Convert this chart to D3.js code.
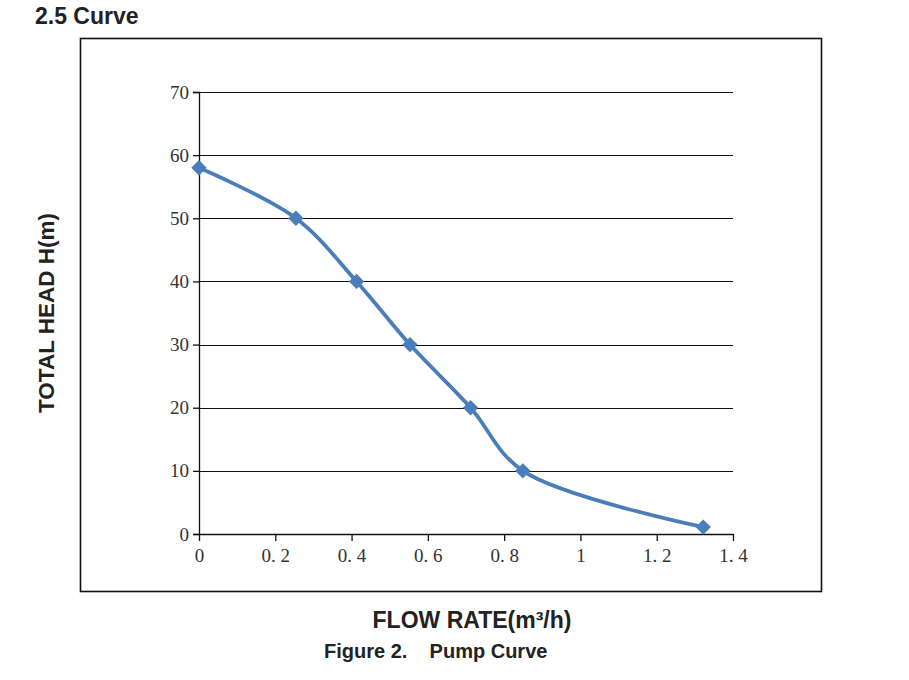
<!DOCTYPE html>
<html>
<head>
<meta charset="utf-8">
<script src="https://cdn.jsdelivr.net/npm/d3@7"></script>
<style>
body { margin:0; background:#fff; }
.bold { font-family:"Liberation Sans",Arial,sans-serif; font-weight:bold; fill:#222; }
</style>
</head>
<body>
<svg id="chart"></svg>
<script>
// pump curve
var flow = [0, 0.254, 0.413, 0.553, 0.712, 0.849, 1.322];
var head = [58, 50, 40, 30, 20, 10, 1.1];
var xTicks = [0, 0.2, 0.4, 0.6, 0.8, 1, 1.2, 1.4];
var xTickLabels = ["0", "0. 2", "0. 4", "0. 6", "0. 8", "1", "1. 2", "1. 4"];
var yTicks = [0, 10, 20, 30, 40, 50, 60, 70];

var screen = {width:909, height:680};
var margins = {left:199, right:176, top:92, bottom:146};
var graph = {
    width: screen.width - margins.left - margins.right,
    height: screen.height - margins.top - margins.bottom
};

var svg = d3.select("#chart")
    .attr("width", screen.width)
    .attr("height", screen.height);

// outer frame
svg.append("rect")
    .attr("x", 80.5).attr("y", 38.5)
    .attr("width", 741).attr("height", 553)
    .attr("fill", "none").attr("stroke", "#111").attr("stroke-width", 1.6);

var xScale = d3.scaleLinear().domain([0, 1.4]).range([0, graph.width]);
var yScale = d3.scaleLinear().domain([0, 70]).range([graph.height, 0]);

var target = svg.append("g")
    .attr("transform", "translate(" + margins.left + "," + margins.top + ")");

// grid lines
target.append("g")
    .selectAll("line")
    .data(yTicks.filter(function(d) { return d > 0; }))
    .enter()
    .append("line")
    .attr("x1", 0).attr("x2", graph.width)
    .attr("y1", function(d) { return Math.round(yScale(d)) + 0.5; })
    .attr("y2", function(d) { return Math.round(yScale(d)) + 0.5; })
    .attr("stroke", "#111").attr("stroke-width", 1.2);

var styleAxis = function(g) {
    g.selectAll("path, line").attr("stroke", "#111").attr("stroke-width", 1.3);
    g.selectAll("text")
        .style("font-family", "'Liberation Serif','DejaVu Serif',serif")
        .style("font-size", "19px")
        .style("fill", "#333");
};

var yAxis = d3.axisLeft(yScale).tickValues(yTicks).tickSize(6).tickPadding(4);
target.append("g").call(yAxis).call(styleAxis);

var xAxis = d3.axisBottom(xScale)
    .tickValues(xTicks).tickSize(7).tickSizeOuter(0).tickPadding(8)
    .tickFormat(function(d, i) { return xTickLabels[i]; });
target.append("g")
    .attr("transform", "translate(0," + graph.height + ")")
    .call(xAxis)
    .call(styleAxis);

var points = flow.map(function(f, i) { return {q:f, h:head[i]}; });

var line = d3.line()
    .x(function(d) { return xScale(d.q); })
    .y(function(d) { return yScale(d.h); })
    .curve(d3.curveCatmullRom.alpha(0.5));

target.append("path")
    .datum(points)
    .attr("d", line)
    .attr("fill", "none")
    .attr("stroke", "#4a7ebb")
    .attr("stroke-width", 3.8);

target.selectAll(".marker")
    .data(points)
    .enter()
    .append("path")
    .attr("class", "marker")
    .attr("d", d3.symbol().type(d3.symbolDiamond2).size(150))
    .attr("transform", function(d) { return "translate(" + xScale(d.q) + "," + yScale(d.h) + ")"; })
    .attr("fill", "#4a7ebb");

// labels
svg.append("text").classed("bold", true)
    .attr("x", 35).attr("y", 24)
    .attr("font-size", 23)
    .text("2.5 Curve");

svg.append("text").classed("bold", true)
    .attr("text-anchor", "middle")
    .attr("font-size", 22.5)
    .attr("transform", "translate(54,313) rotate(-90)")
    .text("TOTAL HEAD H(m)");

svg.append("text").classed("bold", true)
    .attr("text-anchor", "middle")
    .attr("x", 472).attr("y", 628)
    .attr("font-size", 23)
    .text("FLOW RATE(m³/h)");

svg.append("text").classed("bold", true)
    .attr("x", 324).attr("y", 658)
    .attr("font-size", 20)
    .attr("xml:space", "preserve")
    .style("white-space", "pre")
    .text("Figure 2.    Pump Curve");
</script>
</body>
</html>
